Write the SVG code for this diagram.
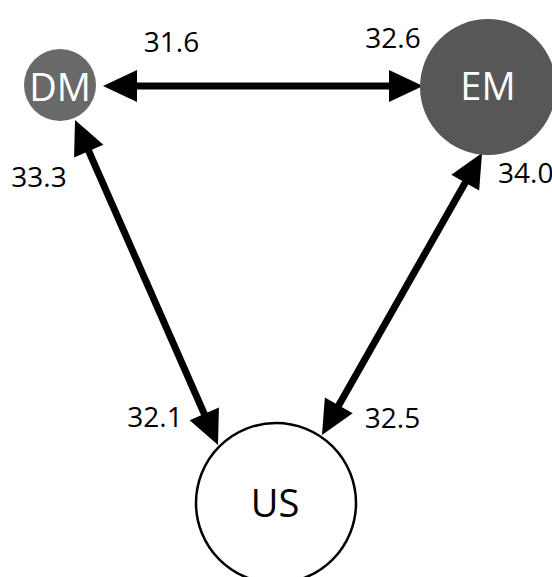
<svg xmlns="http://www.w3.org/2000/svg" width="552" height="577" viewBox="0 0 552 577">
<style>
.lbl{font-family:"Open Sans","Liberation Sans",sans-serif;font-size:28px;fill:#000}
.node{font-family:"Open Sans","Liberation Sans",sans-serif;font-size:38px;text-anchor:middle}
.edge{stroke:#000;stroke-width:7;fill:none;marker-start:url(#ah);marker-end:url(#ah)}
</style>
<defs>
<marker id="ah" markerUnits="userSpaceOnUse" markerWidth="40" markerHeight="40" refX="6" refY="0" orient="auto-start-reverse" overflow="visible">
<path d="M0,-16 L34,0 L0,16 z" fill="#000"/>
</marker>
</defs>
<rect width="552" height="577" fill="#fff"/>
<g id="connectors">
<line class="edge" x1="131" y1="86" x2="395" y2="86"/>
<line class="edge" x1="86.3" y1="145.6" x2="206.7" y2="419.4"/>
<line class="edge" x1="468.2" y1="177.4" x2="335.8" y2="410.6"/>
<text class="lbl" x="171.5" y="52" text-anchor="middle">31.6</text>
<text class="lbl" x="393" y="48" text-anchor="middle">32.6</text>
<text class="lbl" x="39" y="187" text-anchor="middle">33.3</text>
<text class="lbl" x="498" y="183">34.0</text>
<text class="lbl" x="155" y="427" text-anchor="middle">32.1</text>
<text class="lbl" x="392.5" y="428" text-anchor="middle">32.5</text>
</g>
<g id="DM">
<circle cx="60" cy="85" r="36" fill="#696969"/>
<text class="node" x="60" y="101" fill="#fff">DM</text>
</g>
<g id="EM">
<circle cx="488" cy="87" r="68" fill="#575757"/>
<text class="node" x="488" y="100" fill="#fff">EM</text>
</g>
<g id="US">
<circle cx="276" cy="503" r="80" fill="#fff" stroke="#000" stroke-width="2.5"/>
<text class="node" x="275" y="517" fill="#000">US</text>
</g>
</svg>
